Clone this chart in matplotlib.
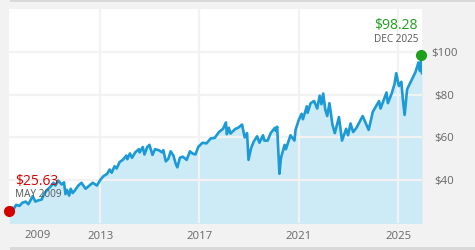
import matplotlib
matplotlib.use("Agg")
import matplotlib.pyplot as plt
import pandas as pd

plt.rcParams['font.family'] = ['Open Sans', 'DejaVu Sans']

dates = [
    "2009-05-01", "2009-06-15", "2009-07-10", "2009-08-15", "2009-10-01", "2009-11-15",
    "2010-01-01", "2010-02-10", "2010-04-15", "2010-05-25", "2010-07-01",
    "2010-08-25", "2010-10-01", "2010-11-15", "2011-01-01", "2011-02-15",
    "2011-03-15", "2011-04-25", "2011-06-15", "2011-07-20", "2011-08-10",
    "2011-09-01", "2011-10-03", "2011-10-25", "2011-11-25", "2012-01-01",
    "2012-02-15", "2012-04-01", "2012-06-01", "2012-07-15", "2012-09-15",
    "2012-11-15", "2013-01-01", "2013-02-15", "2013-04-15", "2013-05-20",
    "2013-06-20", "2013-08-01", "2013-09-01", "2013-10-15", "2013-12-01",
    "2014-01-20", "2014-02-05", "2014-03-15", "2014-04-15", "2014-06-01",
    "2014-07-25", "2014-08-05", "2014-09-20", "2014-10-15", "2014-11-25",
    "2014-12-28", "2015-02-10", "2015-03-20", "2015-05-15", "2015-07-01",
    "2015-07-20", "2015-08-25", "2015-10-01", "2015-11-05", "2015-12-15",
    "2016-01-20", "2016-02-11", "2016-03-20", "2016-05-01", "2016-06-27",
    "2016-08-15", "2016-09-20", "2016-11-03", "2016-12-15", "2017-02-15", "2017-04-15",
    "2017-06-15", "2017-08-15", "2017-10-15", "2017-12-15", "2018-01-26",
    "2018-02-08", "2018-03-10", "2018-04-02", "2018-06-15", "2018-07-25",
    "2018-09-20", "2018-10-29", "2018-12-03", "2018-12-24", "2019-01-31",
    "2019-03-10", "2019-04-30", "2019-06-03", "2019-07-26", "2019-08-15", "2019-10-02",
    "2019-11-15", "2020-01-17", "2020-01-31", "2020-02-19", "2020-03-23",
    "2020-04-15", "2020-06-08", "2020-06-26", "2020-09-02", "2020-10-30",
    "2020-11-15", "2020-12-31", "2021-02-12", "2021-03-04", "2021-04-30",
    "2021-05-12", "2021-06-25", "2021-08-15", "2021-09-30", "2021-11-05",
    "2021-12-01", "2021-12-27", "2022-01-27", "2022-02-24", "2022-03-29",
    "2022-05-12", "2022-06-16", "2022-08-16", "2022-09-30", "2022-11-30",
    "2022-12-28", "2023-02-02", "2023-03-13", "2023-05-01", "2023-07-31",
    "2023-10-27", "2023-12-28", "2024-03-28", "2024-04-19", "2024-07-16",
    "2024-08-05", "2024-09-30", "2024-11-11", "2024-12-06", "2025-01-13",
    "2025-02-19", "2025-03-13", "2025-04-08", "2025-05-15", "2025-07-31",
    "2025-09-15", "2025-10-28", "2025-11-20", "2025-12-12", "2025-12-20",
]
prices = [
    25.63, 27.2, 26.6, 28.5, 28.0, 29.5,
    30.0, 28.8, 32.5, 30.0, 30.5,
    31.0, 33.8, 35.5, 37.0, 38.8,
    37.5, 39.8, 38.0, 39.0, 33.5,
    35.5, 32.8, 36.0, 34.0, 35.5,
    37.5, 38.8, 36.0, 37.2, 38.8,
    37.5, 40.0, 41.8, 43.0, 45.0,
    43.5, 46.5, 45.5, 48.5, 49.5,
    51.5, 49.8, 52.5, 50.5, 53.0,
    54.5, 53.0, 55.5, 52.0, 55.5,
    56.5, 51.8, 54.5, 54.0, 53.0,
    54.0, 48.8, 50.0, 53.5, 51.5,
    47.5, 46.0, 50.5, 51.0, 49.5,
    53.5, 52.5, 52.0, 55.5, 57.5, 57.2,
    59.5, 59.8, 62.5, 64.0, 67.0,
    61.5, 64.5, 61.8, 64.0, 64.5,
    66.0, 60.0, 62.0, 49.5, 55.0,
    58.0, 60.5, 57.5, 61.0, 58.5, 58.5,
    62.0, 64.5, 63.0, 65.0, 43.0,
    50.5, 56.5, 54.5, 61.0, 58.5,
    63.5, 68.0, 71.0, 68.5, 74.5,
    71.5, 76.0, 77.0, 73.5, 79.5,
    75.5, 80.5, 73.0, 70.0, 76.0,
    66.0, 62.0, 69.5, 58.5, 64.0,
    61.0, 66.5, 62.5, 64.5, 70.0,
    63.5, 72.0, 77.0, 73.5, 81.0,
    76.0, 80.5, 85.0, 90.0, 84.0,
    86.0, 78.0, 70.5, 82.5, 87.5,
    90.5, 95.0, 91.0, 98.28, 90.0,
]
start_label = ("$25.63", "MAY 2009")
end_label = ("$98.28", "DEC 2025")
first_year_label = "2009"
x_tick_years = ["2013", "2017", "2021", "2025"]
y_ticks = [40, 60, 80, 100]
y_tick_labels = ["$40", "$60", "$80", "$100"]

d = pd.to_datetime(pd.Series(dates))
W, H = 475, 250
fig = plt.figure(figsize=(W / 100, H / 100), dpi=100)
fig.patch.set_facecolor("#f2f2f2")

# decorative top / bottom bars
fig.add_artist(plt.Rectangle((10 / W, 1 - 2 / H), 1, 2 / H, transform=fig.transFigure,
                             color="#d9d9d9", lw=0))
fig.add_artist(plt.Rectangle((10 / W, 0), 1, 3 / H, transform=fig.transFigure,
                             color="#d9d9d9", lw=0))

ax = fig.add_axes([9 / W, (H - 223) / H, (422 - 9) / W, (223 - 9) / H])
ax.set_facecolor("white")
for s in ax.spines.values():
    s.set_visible(False)

line_c = "#1b9ad6"
ax.fill_between(d, prices, 0, color="#cdeaf7", lw=0, zorder=1)
ax.plot(d, prices, color=line_c, lw=1.9, zorder=3)

ax.set_ylim(20, 120)
ax.set_xlim(pd.Timestamp("2009-05-01"), pd.Timestamp("2025-12-20"))

ax.set_yticks(y_ticks)
ax.set_yticklabels(y_tick_labels)
ax.yaxis.tick_right()
ax.tick_params(axis="y", length=0, pad=16, labelsize=8.2, labelcolor="#666666")
for t in ax.get_yticklabels():
    t.set_horizontalalignment("center")

xt = [pd.Timestamp(y + "-01-01") for y in x_tick_years]
ax.set_xticks(xt)
ax.set_xticklabels(x_tick_years)
ax.tick_params(axis="x", length=0, pad=6, labelsize=8.2, labelcolor="#666666")
ax.grid(True, color="#f2f2f2", lw=1.6, zorder=2)
ax.set_axisbelow(False)
for gl in ax.get_xgridlines() + ax.get_ygridlines():
    gl.set_zorder(2)

# first-year label, shifted inside the plot edge
ax.text(29 / 413, -12 / 214, first_year_label, transform=ax.transAxes,
        ha="center", va="center", fontsize=8.2, color="#666666")

# start marker
ax.plot([d.iloc[0]], [prices[0]], "o", color="#d40000", ms=7, zorder=5, clip_on=False)
ax.text(6 / 413, (223 - 181) / 214, start_label[0], transform=ax.transAxes,
        ha="left", va="center", fontsize=10, color="#d40000")
ax.text(6 / 413, (223 - 194.5) / 214, start_label[1], transform=ax.transAxes,
        ha="left", va="center", fontsize=7.2, color="#555555")

# end marker
imax = prices.index(max(prices))
ax.plot([d.iloc[imax]], [prices[imax]], "o", color="#1ea01e", ms=7, zorder=5, clip_on=False)
ax.text(409 / 413, (223 - 26) / 214, end_label[0], transform=ax.transAxes,
        ha="right", va="center", fontsize=10, color="#1ea01e")
ax.text(409 / 413, (223 - 40) / 214, end_label[1], transform=ax.transAxes,
        ha="right", va="center", fontsize=7.2, color="#555555")

fig.savefig("out.png", dpi=100, facecolor=fig.get_facecolor())
